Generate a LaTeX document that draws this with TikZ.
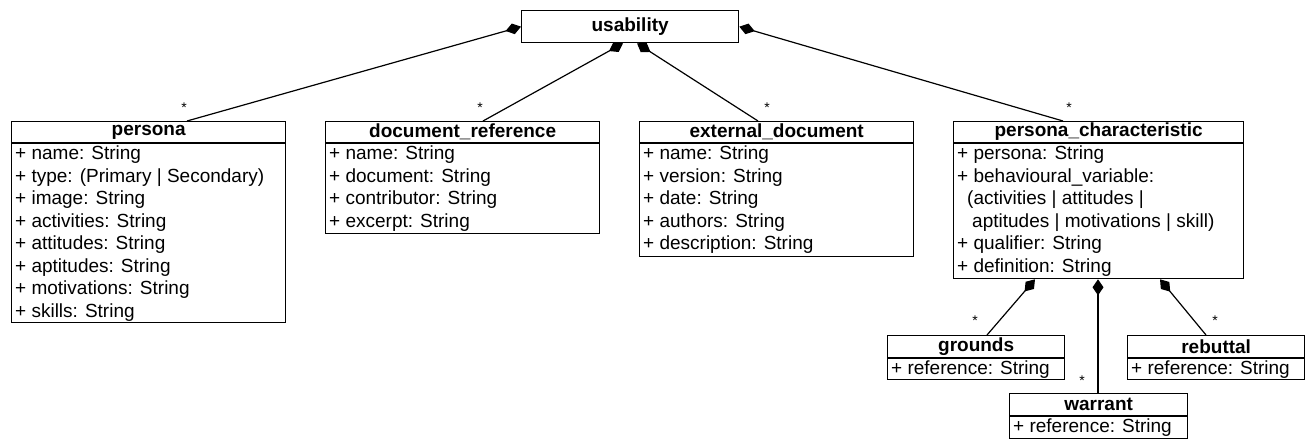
\documentclass[tikz,border=0pt]{standalone}
\usepackage{fontspec}
\setmainfont{Liberation Sans}
\usetikzlibrary{arrows.meta}
\begin{document}
\begin{tikzpicture}[x=1pt,y=-1pt,
  box/.style={draw, line width=1.3pt, inner sep=0pt, anchor=north west},
  ttl/.style={font=\bfseries\fontsize{19}{22}\selectfont, inner sep=0pt, anchor=center},
  attrs/.style={font=\fontsize{19}{22.5}\selectfont, align=left, anchor=north west, inner sep=0pt},
  comp/.style={line width=1.2pt, {Diamond[length=16pt,width=11pt,fill=black]}-},
  mult/.style={font=\fontsize{14}{14}\selectfont, inner sep=0pt}
]
\useasboundingbox (0,0) rectangle (1305,439);

% usability
\node[box, minimum width=217pt, minimum height=32pt] (usability) at (521,10) {};
\node[ttl] (usabilityT) at (usability.center) {usability};

% persona
\node[box, minimum width=274pt, minimum height=201pt] (persona) at (11,121) {};
\node[ttl] (personaT) at ([yshift=-11pt]persona.north) {persona};
\draw[line width=1.3pt] ([yshift=-22pt]persona.north west) -- ([yshift=-22pt]persona.north east);
\node[attrs] (personaA) at ([xshift=4pt,yshift=-25pt]persona.north west) {+ name: String\\+ type: (Primary | Secondary)\\+ image: String\\+ activities: String\\+ attitudes: String\\+ aptitudes: String\\+ motivations: String\\+ skills: String};

% document_reference
\node[box, minimum width=274pt, minimum height=112pt] (docref) at (325,121) {};
\node[ttl] (docrefT) at ([yshift=-11pt]docref.north) {document\_reference};
\draw[line width=1.3pt] ([yshift=-22pt]docref.north west) -- ([yshift=-22pt]docref.north east);
\node[attrs] (docrefA) at ([xshift=4pt,yshift=-25pt]docref.north west) {+ name: String\\+ document: String\\+ contributor: String\\+ excerpt: String};

% external_document
\node[box, minimum width=274pt, minimum height=135pt] (extdoc) at (639,121) {};
\node[ttl] (extdocT) at ([yshift=-11pt]extdoc.north) {external\_document};
\draw[line width=1.3pt] ([yshift=-22pt]extdoc.north west) -- ([yshift=-22pt]extdoc.north east);
\node[attrs] (extdocA) at ([xshift=4pt,yshift=-25pt]extdoc.north west) {+ name: String\\+ version: String\\+ date: String\\+ authors: String\\+ description: String};

% persona_characteristic
\node[box, minimum width=290pt, minimum height=157pt] (pc) at (953,121) {};
\node[ttl] (pcT) at ([yshift=-11pt]pc.north) {persona\_characteristic};
\draw[line width=1.3pt] ([yshift=-22pt]pc.north west) -- ([yshift=-22pt]pc.north east);
\node[attrs] (pcA) at ([xshift=4pt,yshift=-25pt]pc.north west) {+ persona: String\\+ behavioural\_variable:\\\hspace{10pt}(activities | attitudes |\\\hspace{15pt}aptitudes | motivations | skill)\\+ qualifier: String\\+ definition: String};

% grounds
\node[box, minimum width=177pt, minimum height=44pt] (grounds) at (887,335) {};
\node[ttl] (groundsT) at ([yshift=-11.5pt]grounds.north) {grounds};
\draw[line width=1.3pt] ([yshift=-23pt]grounds.north west) -- ([yshift=-23pt]grounds.north east);
\node[attrs] (groundsA) at ([xshift=4pt,yshift=-26pt]grounds.north west) {+ reference: String};

% rebuttal
\node[box, minimum width=177pt, minimum height=44pt] (rebuttal) at (1127,335) {};
\node[ttl] (rebuttalT) at ([yshift=-11.5pt]rebuttal.north) {rebuttal};
\draw[line width=1.3pt] ([yshift=-23pt]rebuttal.north west) -- ([yshift=-23pt]rebuttal.north east);
\node[attrs] (rebuttalA) at ([xshift=4pt,yshift=-26pt]rebuttal.north west) {+ reference: String};

% warrant
\node[box, minimum width=178pt, minimum height=45pt] (warrant) at (1009,393) {};
\node[ttl] (warrantT) at ([yshift=-11.5pt]warrant.north) {warrant};
\draw[line width=1.3pt] ([yshift=-23pt]warrant.north west) -- ([yshift=-23pt]warrant.north east);
\node[attrs] (warrantA) at ([xshift=4pt,yshift=-26pt]warrant.north west) {+ reference: String};

% connectors to usability
\draw[comp] (usability.west) -- ([xshift=176pt]persona.north west)
  node[mult, pos=1, xshift=-3pt, yshift=13pt] (m1) {*};
\draw[comp] ([xshift=102pt]usability.south west) -- ([xshift=158pt]docref.north west)
  node[mult, pos=1, xshift=-3pt, yshift=13pt] (m2) {*};
\draw[comp] ([xshift=116pt]usability.south west) -- ([xshift=119pt]extdoc.north west)
  node[mult, pos=1, xshift=9pt, yshift=13pt] (m3) {*};
\draw[comp] (usability.east) -- ([xshift=110pt]pc.north west)
  node[mult, pos=1, xshift=6pt, yshift=13pt] (m4) {*};

% connectors to persona_characteristic
\draw[comp] ([xshift=82pt]pc.south west) -- ([xshift=100pt]grounds.north west)
  node[mult, pos=1, xshift=-12pt, yshift=14pt] (m5) {*};
\draw[comp] ([xshift=145pt]pc.south west) -- ([xshift=89pt]warrant.north west)
  node[mult, pos=1, xshift=-16pt, yshift=12pt] (m6) {*};
\draw[comp] ([xshift=207pt]pc.south west) -- ([xshift=79pt]rebuttal.north west)
  node[mult, pos=1, xshift=9pt, yshift=14pt] (m7) {*};
\end{tikzpicture}
\end{document}
